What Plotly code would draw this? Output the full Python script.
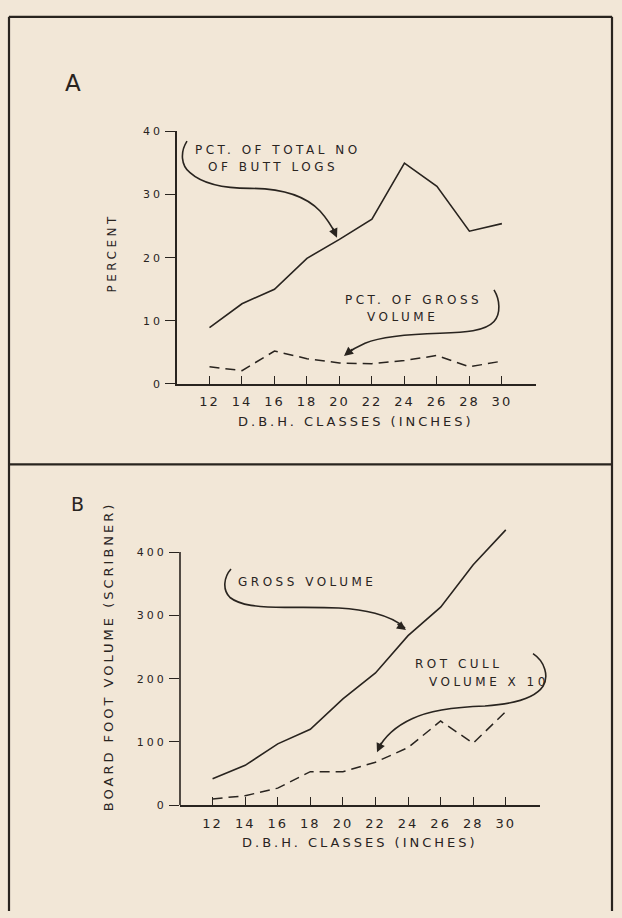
import plotly.graph_objects as go

W, H = 622, 918

# --- data ---
dbh = [12, 14, 16, 18, 20, 22, 24, 26, 28, 30]
pct_butt_logs = [8.9, 12.7, 15.0, 19.9, 22.9, 26.1, 35.0, 31.3, 24.2, 25.4]
pct_gross_volume = [2.7, 2.1, 5.2, 4.0, 3.3, 3.2, 3.7, 4.5, 2.7, 3.6]
gross_volume = [42, 63, 97, 120, 168, 209, 268, 313, 380, 435]
rot_cull_x10 = [10, 15, 27, 53, 53, 68, 91, 133, 98, 148]

a_yticks = [0, 10, 20, 30, 40]
b_yticks = [0, 100, 200, 300, 400]

INK = "#29241f"
PAPER = "#f2e7d7"
FONT = "DejaVu Sans"


def px(x):
    return x / W


def py(y):
    return 1 - y / H


def spaced(text, gap):
    return f"<span style='letter-spacing:{gap}px'>{text}</span>"


def curve(points):
    # points in pixels: first is the start, then groups of three for cubic segments
    p = [f"{px(x):.5f},{py(y):.5f}" for x, y in points]
    path = "M " + p[0]
    for i in range(1, len(p), 3):
        path += " C " + " ".join(p[i:i + 3])
    return path


fig = go.Figure()

# === A ===
fig.add_trace(go.Scatter(x=dbh, y=pct_butt_logs, mode="lines", xaxis="x", yaxis="y",
                         line=dict(color=INK, width=1.6)))
fig.add_trace(go.Scatter(x=dbh, y=pct_gross_volume, mode="lines", xaxis="x", yaxis="y",
                         line=dict(color=INK, width=1.5, dash="10px,6px")))

# === B ===
fig.add_trace(go.Scatter(x=dbh, y=gross_volume, mode="lines", xaxis="x2", yaxis="y2",
                         line=dict(color=INK, width=1.6)))
fig.add_trace(go.Scatter(x=dbh, y=rot_cull_x10, mode="lines", xaxis="x2", yaxis="y2",
                         line=dict(color=INK, width=1.5, dash="10px,6px")))

xcommon = dict(range=[10, 32.1], tickvals=dbh, ticktext=[spaced(v, 2) for v in dbh],
               ticks="inside", ticklen=8, tickwidth=1.3, tickcolor=INK,
               showline=True, linecolor=INK, linewidth=1.6, showgrid=False, zeroline=False,
               tickfont=dict(family=FONT, size=13, color=INK), ticklabelstandoff=5)
ycommon = dict(ticks="outside", ticklen=10, tickwidth=1.3, tickcolor=INK,
               linecolor=INK, linewidth=1.6, showgrid=False, zeroline=False,
               tickfont=dict(family=FONT, size=11, color=INK))

fig.update_layout(
    width=W, height=H, autosize=False,
    margin=dict(l=0, r=0, t=0, b=0),
    paper_bgcolor=PAPER, plot_bgcolor=PAPER,
    showlegend=False,
    xaxis=dict(domain=[px(177), px(536)], anchor="y", **xcommon),
    yaxis=dict(domain=[py(383.3), py(127.3)], anchor="x", range=[0, 40],
               tickvals=a_yticks, ticktext=[spaced(v, 3) for v in a_yticks],
               showline=True, **ycommon),
    xaxis2=dict(domain=[px(180), px(540)], anchor="y2", **xcommon),
    yaxis2=dict(domain=[py(810.7), py(521.8)], anchor="x2", range=[0, 450],
                tickvals=b_yticks, ticktext=[spaced(v, 3) for v in b_yticks],
                showline=False, **ycommon),
)

# y axis line of B stops at 400 while the gross volume line runs above it
fig.add_shape(type="line", xref="x2 domain", yref="y2", x0=0, x1=0, y0=0, y1=400,
              line=dict(color=INK, width=1.6))

# frame and divider
frame = dict(color=INK, width=2.2)
fig.add_shape(type="line", xref="paper", yref="paper", x0=px(9), x1=px(612), y0=py(11), y1=py(11), line=frame)
fig.add_shape(type="line", xref="paper", yref="paper", x0=px(9), x1=px(9), y0=py(11), y1=0, line=frame)
fig.add_shape(type="line", xref="paper", yref="paper", x0=px(612), x1=px(612), y0=py(11), y1=0, line=frame)
fig.add_shape(type="line", xref="paper", yref="paper", x0=px(9), x1=px(612), y0=py(465), y1=py(465), line=frame)

# curved leader arrows
leaders = [
    [(187, 137), (180, 148), (181, 162), (190, 169),
     (202, 180), (225, 185), (250, 185),
     (280, 185), (305, 192), (320, 208),
     (328, 217), (333, 226), (336, 232)],
    [(494, 288), (500, 298), (501, 312), (494, 320),
     (485, 330), (465, 331), (440, 332),
     (405, 333), (380, 336), (365, 342),
     (356, 346), (350, 350), (346, 353)],
    [(231, 571), (224, 579), (222, 592), (230, 600),
     (240, 608), (258, 610), (285, 610),
     (320, 610), (350, 609), (375, 616),
     (390, 620), (400, 626), (405, 631)],
    [(533, 657), (545, 665), (549, 680), (543, 690),
     (535, 702), (515, 708), (485, 710),
     (455, 711), (430, 714), (412, 723),
     (395, 731), (384, 742), (378, 754)],
]
for pts in leaders:
    fig.add_shape(type="path", xref="paper", yref="paper", path=curve(pts),
                  line=dict(color=INK, width=1.6))

heads = [((337, 235), -5, -11), ((344, 355), 10, -8), ((406, 633), -10, -7), ((377, 757), 5, -11)]
for (hx, hy), ax, ay in heads:
    fig.add_annotation(x=px(hx), y=py(hy), xref="paper", yref="paper", text="",
                       showarrow=True, ax=ax, ay=ay, arrowhead=2, arrowsize=1.2,
                       arrowwidth=1.5, arrowcolor=INK)

texts = [
    ("A", 72.5, 78.5, 23, 0, "center", 0),
    ("B", 77, 505, 19, 0, "center", 0),
    ("PERCENT", 112, 251, 12, 3.5, "center", -90),
    ("D.B.H. CLASSES (INCHES)", 356, 421, 13, 3, "center", 0),
    ("PCT. OF TOTAL NO", 192.5, 146, 12, 3.5, "left", 0),
    ("OF BUTT LOGS", 206, 163, 12, 3.5, "left", 0),
    ("PCT. OF GROSS", 343, 298, 12, 3.5, "left", 0),
    ("VOLUME", 365, 315, 12, 3.5, "left", 0),
    ("BOARD FOOT VOLUME (SCRIBNER)", 108, 659.5, 13, 3, "center", -90),
    ("D.B.H. CLASSES (INCHES)", 359.5, 848.3, 13, 3, "center", 0),
    ("GROSS VOLUME", 236, 584, 12, 3.5, "left", 0),
    ("ROT CULL", 413, 667.5, 12, 3.5, "left", 0),
    ("VOLUME X 10", 427, 686, 12, 3.5, "left", 0),
]
for text, x, y, size, gap, anchor, angle in texts:
    fig.add_annotation(x=px(x), y=py(y), xref="paper", yref="paper",
                       text=spaced(text, gap) if gap else text, showarrow=False,
                       xanchor=anchor, yanchor="middle", textangle=angle,
                       font=dict(family=FONT, size=size, color=INK))

# drop the default page margin so the figure sits at the window origin
fig.write_html("out.html", config={"displayModeBar": False},
               post_script="document.body.style.margin='0px';")
